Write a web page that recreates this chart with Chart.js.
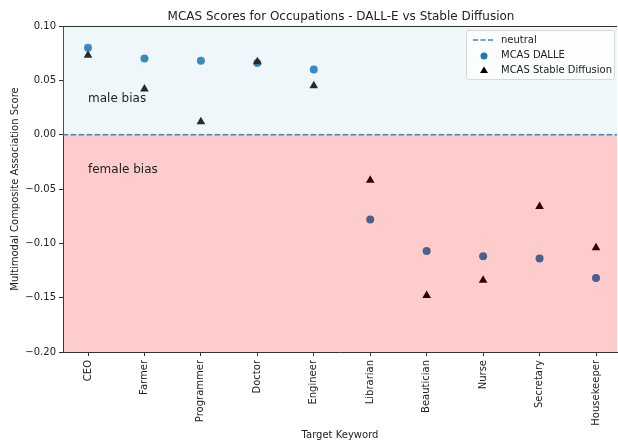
<!DOCTYPE html>
<html>
<head>
<meta charset="utf-8">
<script src="https://cdn.jsdelivr.net/npm/chart.js@4"></script>
<style>
  body { margin: 0; background: #fff; overflow: hidden; }
  #wrap { width: 618px; height: 443px; position: relative; }
</style>
</head>
<body>
<div id="wrap"><canvas id="mcasChart"></canvas></div>
<script>
// occupations (x axis)
var categories = ['CEO', 'Farmer', 'Programmer', 'Doctor', 'Engineer', 'Librarian', 'Beautician', 'Nurse', 'Secretary', 'Housekeeper'];
// MCAS scores
var dalleScores = [0.080, 0.070, 0.068, 0.066, 0.060, -0.078, -0.107, -0.112, -0.114, -0.132];
var sdScores = [0.073, 0.042, 0.012, 0.067, 0.045, -0.042, -0.148, -0.134, -0.066, -0.104];
var yTicks = [-0.20, -0.15, -0.10, -0.05, 0.00, 0.05, 0.10];

var FONT = "'DejaVu Sans', sans-serif";

function toPoints(vals) {
    return vals.map(function(v, i) { return { x: i, y: v }; });
}

// shaded bias regions, drawn over the markers (like matplotlib axhspan with alpha)
const spanPlugin = {
    id: 'spans',
    beforeDatasetDraw(chart, args) {
        if (args.index !== 0) return;
        const ctx = chart.ctx, a = chart.chartArea, y = chart.scales.y;
        const y0 = y.getPixelForValue(0);
        ctx.save();
        ctx.fillStyle = 'rgba(173,216,230,0.2)';
        ctx.fillRect(a.left, y.getPixelForValue(0.1), a.right - a.left, y0 - y.getPixelForValue(0.1));
        ctx.fillStyle = 'rgba(255,0,0,0.2)';
        ctx.fillRect(a.left, y0, a.right - a.left, y.getPixelForValue(-0.2) - y0);
        ctx.restore();
    }
};

// texts, top spine and legend box
const decoPlugin = {
    id: 'deco',
    afterDraw(chart) {
        const ctx = chart.ctx, a = chart.chartArea, x = chart.scales.x, y = chart.scales.y;
        ctx.save();
        ctx.fillStyle = '#222';
        ctx.font = '12px ' + FONT;
        ctx.textAlign = 'left';
        ctx.textBaseline = 'alphabetic';
        ctx.fillText('male bias', x.getPixelForValue(0), y.getPixelForValue(0.03));
        ctx.fillText('female bias', x.getPixelForValue(0), y.getPixelForValue(-0.035));

        // title
        ctx.textAlign = 'center';
        ctx.fillText('MCAS Scores for Occupations - DALL-E vs Stable Diffusion', 341, 20);

        // top spine (the picture is cropped before the right one)
        ctx.strokeStyle = '#333';
        ctx.lineWidth = 1;
        ctx.beginPath();
        ctx.moveTo(a.left, a.top + 0.5);
        ctx.lineTo(a.right, a.top + 0.5);
        ctx.stroke();

        // legend
        const lx = 466, ly = 30, lw = 148, lh = 49;
        ctx.fillStyle = 'rgba(255,255,255,0.8)';
        ctx.strokeStyle = '#d8d8d8';
        ctx.beginPath();
        ctx.roundRect(lx + 0.5, ly + 0.5, lw, lh, 2);
        ctx.fill();
        ctx.stroke();

        ctx.font = '10px ' + FONT;
        ctx.textAlign = 'left';
        ctx.textBaseline = 'middle';
        ctx.fillStyle = '#222';
        const ds = chart.data.datasets;
        ctx.strokeStyle = '#3a88c5';
        ctx.lineWidth = 1.5;
        ctx.setLineDash([5, 2.5]);
        ctx.beginPath();
        ctx.moveTo(473, 40);
        ctx.lineTo(494, 40);
        ctx.stroke();
        ctx.setLineDash([]);
        ctx.fillText(ds[0].label, 501, 40);

        ctx.fillStyle = '#1f77b4';
        ctx.beginPath();
        ctx.arc(484, 56, 3.5, 0, Math.PI * 2);
        ctx.fill();
        ctx.fillStyle = '#222';
        ctx.fillText(ds[1].label, 501, 55);

        ctx.fillStyle = '#000';
        ctx.beginPath();
        ctx.moveTo(484, 66.5);
        ctx.lineTo(488, 73);
        ctx.lineTo(480, 73);
        ctx.closePath();
        ctx.fill();
        ctx.fillStyle = '#222';
        ctx.fillText(ds[2].label, 501, 70);
        ctx.restore();
    }
};

const chartCtx = document.getElementById('mcasChart').getContext('2d');
new Chart(chartCtx, {
    type: 'scatter',
    data: {
        datasets: [{
            type: 'line',
            label: 'neutral',
            data: [{ x: -0.45, y: 0 }, { x: 9.45, y: 0 }],
            borderColor: '#3a88c5',
            borderWidth: 1.5,
            borderDash: [5.5, 2.5],
            pointRadius: 0,
            order: 0
        }, {
            label: 'MCAS DALLE',
            data: toPoints(dalleScores),
            backgroundColor: '#1f77b4',
            borderWidth: 0,
            pointRadius: 4,
            order: 2
        }, {
            label: 'MCAS Stable Diffusion',
            data: toPoints(sdScores),
            backgroundColor: '#000',
            borderWidth: 0,
            pointStyle: 'triangle',
            pointRadius: 5,
            order: 1
        }]
    },
    options: {
        responsive: true,
        maintainAspectRatio: false,
        animation: false,
        layout: { autoPadding: false, padding: { top: 26, right: 1, left: 0, bottom: 0 } },
        plugins: {
            legend: { display: false },
            title: { display: false },
            tooltip: { enabled: false }
        },
        scales: {
            x: {
                type: 'linear',
                min: -0.443,
                max: 9.372,
                afterBuildTicks: function(axis) {
                    axis.ticks = categories.map(function(c, i) { return { value: i }; });
                },
                afterFit: function(axis) {
                    axis.height = 91;
                    axis.paddingLeft = 0;
                    axis.paddingRight = 0;
                },
                ticks: {
                    autoSkip: false,
                    minRotation: 90,
                    maxRotation: 90,
                    padding: 4,
                    color: '#222',
                    font: { family: FONT, size: 10 },
                    callback: function(v) { return categories[v]; }
                },
                grid: { drawOnChartArea: false, tickLength: 4, color: '#333' },
                border: { color: '#333' },
                title: {
                    display: true,
                    text: 'Target Keyword',
                    color: '#222',
                    font: { family: FONT, size: 10 },
                    padding: { top: 4, bottom: 2 }
                }
            },
            y: {
                min: -0.2,
                max: 0.1,
                afterBuildTicks: function(axis) {
                    axis.ticks = yTicks.map(function(v) { return { value: v }; });
                },
                afterFit: function(axis) {
                    axis.width = 63;
                    axis.paddingTop = 0;
                    axis.paddingBottom = 0;
                },
                ticks: {
                    padding: 3,
                    color: '#222',
                    font: { family: FONT, size: 10 },
                    callback: function(v) { return v.toFixed(2).replace('-', '\u2212'); }
                },
                grid: { drawOnChartArea: false, tickLength: 4, color: '#333' },
                border: { color: '#333' },
                title: {
                    display: true,
                    text: 'Multimodal Composite Association Score',
                    color: '#222',
                    font: { family: FONT, size: 10 },
                    padding: { top: 9, bottom: 4 }
                }
            }
        }
    },
    plugins: [spanPlugin, decoPlugin]
});
</script>
</body>
</html>
